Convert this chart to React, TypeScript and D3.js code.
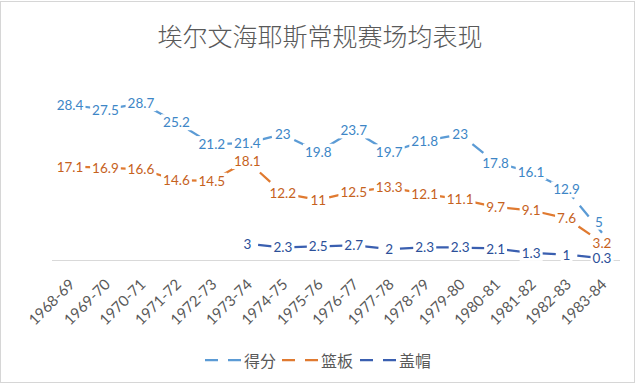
import * as d3 from 'd3'
import { useEffect, useRef } from 'react'

const seasons = ['1968-69', '1969-70', '1970-71', '1971-72', '1972-73', '1973-74', '1974-75', '1975-76',
    '1976-77', '1977-78', '1978-79', '1979-80', '1980-81', '1981-82', '1982-83', '1983-84']
const points = [28.4, 27.5, 28.7, 25.2, 21.2, 21.4, 23, 19.8, 23.7, 19.7, 21.8, 23, 17.8, 16.1, 12.9, 5]
const rebounds = [17.1, 16.9, 16.6, 14.6, 14.5, 18.1, 12.2, 11, 12.5, 13.3, 12.1, 11.1, 9.7, 9.1, 7.6, 3.2]
const blocks = [null, null, null, null, null, 3, 2.3, 2.5, 2.7, 2, 2.3, 2.3, 2.1, 1.3, 1, 0.3]
const seriesNames = ['得分', '篮板', '盖帽']

const lineColors = ['#5b9bd5', '#e07a30', '#3a5fb0']
const textColors = ['#3d86c6', '#c6621d', '#2b4f99']

const App = () => {
    const ref = useRef<SVGSVGElement>(null)

    useEffect(() => {
        const svg = d3.select(ref.current)
        svg.selectAll('*').remove()

        const allSeries = [points, rebounds, blocks]

        // scales
        const x = d3.scalePoint<string>().domain(seasons).range([70, 602])
        const y = d3.scaleLinear().domain([0, 30]).range([260, 96])

        // frame
        svg.append('rect')
            .attr('x', 0.5).attr('y', 1.5)
            .attr('width', 634).attr('height', 381)
            .attr('fill', '#fff')
            .attr('stroke', '#d6d6d6')

        // title
        svg.append('text')
            .attr('x', 320).attr('y', 46)
            .attr('text-anchor', 'middle')
            .attr('font-family', '"Noto Sans CJK SC", sans-serif')
            .attr('font-weight', 300)
            .attr('font-size', 25)
            .attr('fill', '#595959')
            .text('埃尔文海耶斯常规赛场均表现')

        // x axis line
        svg.append('line')
            .attr('x1', 52).attr('x2', 620)
            .attr('y1', y(0) + 0.5).attr('y2', y(0) + 0.5)
            .attr('stroke', '#d9d9d9')

        // x tick labels
        svg.append('g')
            .selectAll('text')
            .data(seasons)
            .join('text')
                .attr('transform', d => `translate(${x(d)! + 1.5},281) rotate(-45)`)
                .attr('text-anchor', 'end')
                .attr('dominant-baseline', 'central')
                .attr('font-family', 'Lato, sans-serif')
                .attr('font-size', 15)
                .attr('fill', '#595959')
                .text(d => d)

        // dashed segments, one dash centred in each gap between labels
        allSeries.forEach((vals, s) => {
            const g = svg.append('g')
            for (let i = 0; i < vals.length - 1; i++) {
                const a = vals[i], b = vals[i + 1]
                if (a == null || b == null) continue
                const x1 = x(seasons[i])!, y1 = y(a)
                const x2 = x(seasons[i + 1])!, y2 = y(b)
                const len = Math.hypot(x2 - x1, y2 - y1)
                g.append('line')
                    .attr('x1', x1).attr('y1', y1)
                    .attr('x2', x2).attr('y2', y2)
                    .attr('stroke', lineColors[s])
                    .attr('stroke-width', 2.25)
                    .attr('stroke-dasharray', '14 9')
                    .attr('stroke-dashoffset', 7 - len / 2)
            }
        })

        // data labels with white boxes over the lines
        const shift: Record<string, [number, number]> = { '0-15': [-3, -11] }
        allSeries.forEach((vals, s) => {
            vals.forEach((v, i) => {
                if (v == null) return
                const off = shift[`${s}-${i}`] || [0, 0]
                const g = svg.append('g')
                    .attr('transform', `translate(${x(seasons[i])! + off[0]},${y(v) + off[1]})`)
                const t = g.append('text')
                    .attr('text-anchor', 'middle')
                    .attr('dominant-baseline', 'central')
                    .attr('font-family', 'Lato, sans-serif')
                    .attr('font-size', 13.5)
                    .attr('fill', textColors[s])
                    .text(String(v))
                const bb = (t.node() as SVGTextElement).getBBox()
                g.insert('rect', 'text')
                    .attr('x', bb.x - 2).attr('y', bb.y)
                    .attr('width', bb.width + 4).attr('height', bb.height)
                    .attr('fill', '#fff')
            })
        })

        // legend
        const legendX = [205, 282, 360]
        const legend = svg.append('g')
        seriesNames.forEach((name, s) => {
            legend.append('line')
                .attr('x1', legendX[s]).attr('x2', legendX[s] + 36)
                .attr('y1', 360).attr('y2', 360)
                .attr('stroke', lineColors[s])
                .attr('stroke-width', 2.25)
                .attr('stroke-dasharray', '13 10')
            legend.append('text')
                .attr('x', legendX[s] + 39).attr('y', 360)
                .attr('dominant-baseline', 'central')
                .attr('font-family', '"Noto Sans CJK SC", sans-serif')
                .attr('font-size', 16)
                .attr('fill', '#595959')
                .text(name)
        })
    }, [])

    return (
        <svg ref={ref} width={640} height={385}
            style={{ position: 'absolute', left: 0, top: 0, display: 'block' }} />
    )
}

export default App
